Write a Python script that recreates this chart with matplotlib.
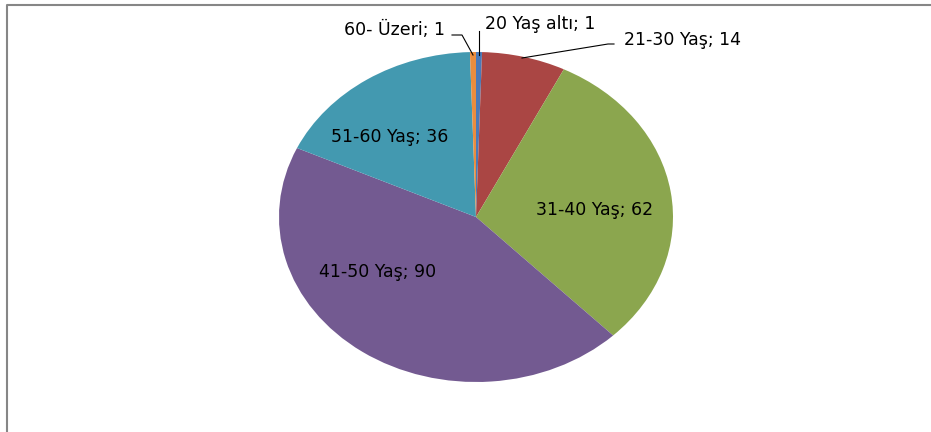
import matplotlib.pyplot as plt
from matplotlib.lines import Line2D

# Yaş gruplarına göre dağılım
labels = ['20 Yaş altı', '21-30 Yaş', '31-40 Yaş', '41-50 Yaş', '51-60 Yaş', '60- Üzeri']
values = [1, 14, 62, 90, 36, 1]
colors = ['#4A7AB8', '#AA4644', '#8BA64E', '#735A91', '#4399B0', '#EB8D3E']

W, H = 931, 432
fig = plt.figure(figsize=(W / 100, H / 100), dpi=100)
fig.patch.set_facecolor('white')

# pasta alanı (elips biçiminde)
cx, cy, rx, ry = 476, 217, 197, 165
ax = fig.add_axes([(cx - rx) / W, (H - cy - ry) / H, 2 * rx / W, 2 * ry / H])
wedges, _ = ax.pie(values, colors=colors, startangle=90, counterclock=False,
                   wedgeprops=dict(linewidth=0))
ax.set_aspect('auto')
ax.set_xlim(-1, 1)
ax.set_ylim(-1, 1)
ax.axis('off')

font = dict(family=['DejaVu Sans'], fontsize=12.5, color='black')

def px(x, y):
    return x / W, 1 - y / H

texts = [f'{l}; {v}' for l, v in zip(labels, values)]
# etiket konumları (piksel)
pos = [(540, 24), (682, 40), (595, 210), (378, 272), (390, 137), (395, 30)]
for t, (x, y) in zip(texts, pos):
    fig.text(*px(x, y), t, ha='center', va='center', **font)

# kılavuz çizgileri
leaders = [
    [(479, 31), (479, 55)],
    [(614, 44), (608, 44), (522, 58)],
    [(452, 35), (462, 35), (473, 55)],
]
for seg in leaders:
    xs = [px(*p)[0] for p in seg]
    ys = [px(*p)[1] for p in seg]
    fig.add_artist(Line2D(xs, ys, color='black', lw=0.8))

# çerçeve
fig.add_artist(Line2D([px(7, 0)[0], px(7, 5)[0], 1], [0, px(0, 5)[1], px(0, 5)[1]],
                      color='#868686', lw=1.5))

fig.savefig('out.png', dpi=100)
